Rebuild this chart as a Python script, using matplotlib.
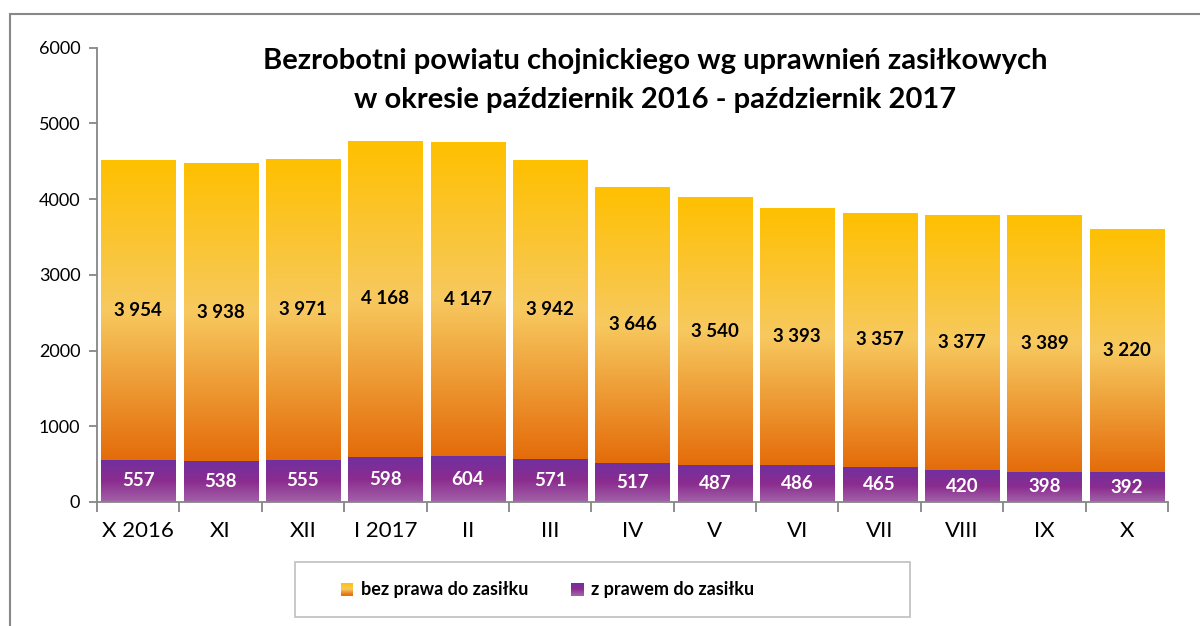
import numpy as np
import matplotlib
matplotlib.use("Agg")
import matplotlib.pyplot as plt
from matplotlib.colors import LinearSegmentedColormap
from matplotlib.patches import Rectangle
from matplotlib.legend_handler import HandlerBase

plt.rcParams['font.family'] = ['Lato', 'DejaVu Sans']

categories = ['X 2016', 'XI', 'XII', 'I 2017', 'II', 'III', 'IV', 'V', 'VI', 'VII', 'VIII', 'IX', 'X']
bez_prawa = [3954, 3938, 3971, 4168, 4147, 3942, 3646, 3540, 3393, 3357, 3377, 3389, 3220]
z_prawem = [557, 538, 555, 598, 604, 571, 517, 487, 486, 465, 420, 398, 392]
series_names = ['bez prawa do zasiłku', 'z prawem do zasiłku']
title_lines = ['Bezrobotni powiatu chojnickiego wg uprawnień zasiłkowych',
               'w okresie październik 2016 - październik 2017']

orange_cmap = LinearSegmentedColormap.from_list(
    'org', [(0.0, '#E46C0A'), (0.5, '#F7C95F'), (1.0, '#FFC000')])
purple_cmap = LinearSegmentedColormap.from_list(
    'pur', [(0.0, '#A262A8'), (0.5, '#8B2C8F'), (1.0, '#7030A0')])

W, H = 1200, 626
fig = plt.figure(figsize=(W / 100, H / 100), dpi=100)
ax = fig.add_axes([97 / W, 1 - 502 / H, (1168 - 97) / W, (502 - 47.7) / H])

grad = np.linspace(0, 1, 256).reshape(-1, 1)
x = np.arange(len(categories))
width = 0.9


def gradient_bars(bottoms, heights, cmap):
    bars = ax.bar(x, heights, width, bottom=bottoms, color='none', linewidth=0)
    for b in bars:
        x0, y0 = b.get_x(), b.get_y()
        im = ax.imshow(grad, cmap=cmap, origin='lower', aspect='auto',
                       extent=[x0, x0 + b.get_width(), y0, y0 + b.get_height()],
                       interpolation='bilinear', zorder=2)
        im.set_clip_path(b)
    return bars


gradient_bars(np.zeros(len(x)), z_prawem, purple_cmap)
gradient_bars(np.array(z_prawem), bez_prawa, orange_cmap)

ax.set_xlim(-0.5, len(categories) - 0.5)
ax.set_ylim(0, 6000)


def fmt(v):
    return f"{v:,}".replace(',', ' ')


for i in range(len(x)):
    ax.text(x[i], z_prawem[i] / 2, fmt(z_prawem[i]), ha='center', va='center',
            color='white', fontsize=13.5, fontweight='bold', zorder=5)
    ax.text(x[i], z_prawem[i] + bez_prawa[i] / 2, fmt(bez_prawa[i]), ha='center',
            va='center', color='black', fontsize=13.5, fontweight='bold', zorder=5)

axis_col = '#868686'
for s in ['top', 'right']:
    ax.spines[s].set_visible(False)
for s in ['left', 'bottom']:
    ax.spines[s].set_color(axis_col)
    ax.spines[s].set_linewidth(1.3)

ax.set_yticks(np.arange(0, 6001, 1000))
ax.tick_params(axis='y', colors=axis_col, length=6, width=1.3, labelsize=13,
               labelcolor='black', pad=6)
ax.set_xticks(np.arange(-0.5, len(categories), 1.0))
ax.set_xticklabels([])
ax.set_xticks(x, minor=True)
ax.set_xticklabels(categories, minor=True)
ax.tick_params(axis='x', which='major', colors=axis_col, length=7, width=1.3)
ax.tick_params(axis='x', which='minor', length=0, labelsize=16, pad=14,
               labelcolor='black')

fig.text(655 / W, 1 - 61 / H, title_lines[0], ha='center', va='center',
         fontsize=21, fontweight='bold')
fig.text(655 / W, 1 - 100 / H, title_lines[1], ha='center', va='center',
         fontsize=21, fontweight='bold')

# figure border
fig.patches.append(Rectangle((10 / W, -0.1), 1.2, 0.1 + 1 - 14 / H,
                             transform=fig.transFigure, fill=False,
                             edgecolor='#888888', linewidth=1.5))

# legend frame
fig.patches.append(Rectangle((295 / W, 1 - 617 / H), 615 / W, 55 / H,
                             transform=fig.transFigure, facecolor='white',
                             edgecolor='#BFBFBF', linewidth=1.2))


class GradHandler(HandlerBase):
    def __init__(self, cmap):
        super().__init__()
        self.cmap = cmap

    def create_artists(self, legend, orig_handle, xd, yd, w, h, fontsize, trans):
        n = 12
        side = h * 1.0
        x0 = xd + w - side
        arts = []
        for k in range(n):
            r = Rectangle((x0, yd + k * side / n), side, side / n + 0.2,
                          facecolor=self.cmap((k + 0.5) / n), edgecolor='none',
                          transform=trans)
            arts.append(r)
        return arts


h1 = Rectangle((0, 0), 1, 1)
h2 = Rectangle((0, 0), 1, 1)
leg = fig.legend([h1, h2], series_names, loc='center left',
                 bbox_to_anchor=(339 / W, 1 - 590 / H),
                 ncol=2, frameon=False, handler_map={h1: GradHandler(orange_cmap),
                                                     h2: GradHandler(purple_cmap)},
                 prop={'weight': 'bold', 'size': 13}, handlelength=0.8,
                 handletextpad=0.4, columnspacing=2.3, borderpad=0, borderaxespad=0)

fig.savefig('out.png', dpi=100)
